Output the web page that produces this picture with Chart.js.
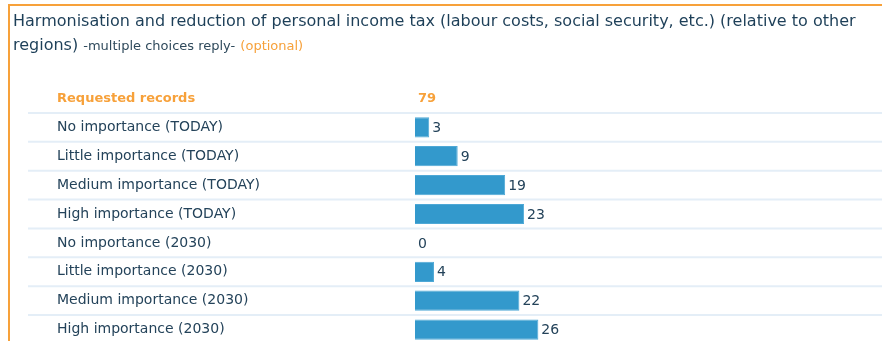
<!DOCTYPE html>
<html>
<head>
<meta charset="utf-8">
<script src="https://cdn.jsdelivr.net/npm/chart.js@4"></script>
<style>
  html, body { margin: 0; padding: 0; background: #fff; overflow: hidden; }
  body { width: 882px; height: 341px; position: relative; font-family: "DejaVu Sans", sans-serif; }
  .frame { position: absolute; left: 8px; top: 4px; right: 0; bottom: 0; border-top: 2px solid #f7a13a; border-left: 2px solid #f7a13a; }
  .title { position: absolute; left: 13px; top: 9px; color: #1d3f58; font-size: 16px; line-height: 24px; white-space: nowrap; z-index: 2; }
  .title .sub { font-size: 13px; color: #2f4a5c; }
  .title .opt { font-size: 13px; color: #f7a13a; }
  .chart-box { position: absolute; left: 0; top: 0; width: 882px; height: 360px; }
</style>
</head>
<body>
<div class="frame"></div>
<div class="title">
  Harmonisation and reduction of personal income tax (labour costs, social security, etc.) (relative to other<br>
  regions) <span class="sub">-multiple choices reply-</span> <span class="opt">(optional)</span>
</div>
<div class="chart-box"><canvas id="importanceChart"></canvas></div>
<script>
const headerLabel = 'Requested records';
const totalRecords = 79;
const categories = [
    'No importance (TODAY)',
    'Little importance (TODAY)',
    'Medium importance (TODAY)',
    'High importance (TODAY)',
    'No importance (2030)',
    'Little importance (2030)',
    'Medium importance (2030)',
    'High importance (2030)'
];
const counts = [3, 9, 19, 23, 0, 4, 22, 26];

const ORANGE = '#f7a13a';
const TEXT = '#24435a';

// lignes de séparation entre les rangées + valeurs au bout des barres
const rowsPlugin = {
    id: 'rows',
    beforeDatasetsDraw(chart) {
        const { ctx, scales: { y } } = chart;
        ctx.save();
        ctx.strokeStyle = '#e4eef7';
        ctx.lineWidth = 2;
        for (let i = 0; i < y.ticks.length; i++) {
            const yy = (y.getPixelForValue(i) + y.getPixelForValue(i + 1)) / 2;
            ctx.beginPath();
            ctx.moveTo(28, yy);
            ctx.lineTo(chart.width, yy);
            ctx.stroke();
        }
        ctx.restore();
    },
    afterDatasetsDraw(chart) {
        const { ctx, chartArea, scales: { y } } = chart;
        const meta = chart.getDatasetMeta(0);
        ctx.save();
        ctx.textBaseline = 'middle';
        ctx.textAlign = 'left';
        // total en tête
        ctx.font = 'bold 13px "DejaVu Sans"';
        ctx.fillStyle = ORANGE;
        ctx.fillText(String(totalRecords), chartArea.left + 3, y.getPixelForValue(0));
        ctx.font = '14px "DejaVu Sans"';
        ctx.fillStyle = TEXT;
        meta.data.forEach((bar, i) => {
            const v = chart.data.datasets[0].data[i];
            if (v === null) return;
            ctx.fillText(String(v), bar.x + 3, bar.y + 1);
        });
        ctx.restore();
    }
};

const ctx = document.getElementById('importanceChart').getContext('2d');
new Chart(ctx, {
    type: 'bar',
    data: {
        labels: [headerLabel, ...categories],
        datasets: [{
            data: [null, ...counts],
            backgroundColor: '#3399cc',
            borderColor: '#4ea8d6',
            borderWidth: 1,
            barPercentage: 0.7,
            categoryPercentage: 1
        }]
    },
    options: {
        indexAxis: 'y',
        responsive: true,
        maintainAspectRatio: false,
        animation: false,
        layout: { padding: { left: 57, top: 84, bottom: 16, right: 40 } },
        plugins: { legend: { display: false }, tooltip: { enabled: false } },
        scales: {
            x: { display: false, min: 0, max: 90 },
            y: {
                grid: { display: false },
                border: { display: false },
                afterFit(scale) { scale.width = 358; },
                ticks: {
                    crossAlign: 'far',
                    padding: 0,
                    color: c => c.index === 0 ? ORANGE : TEXT,
                    font: c => c.index === 0
                        ? { family: '"DejaVu Sans"', size: 13, weight: 'bold' }
                        : { family: '"DejaVu Sans"', size: 14 }
                }
            }
        }
    },
    plugins: [rowsPlugin]
});
</script>
</body>
</html>
